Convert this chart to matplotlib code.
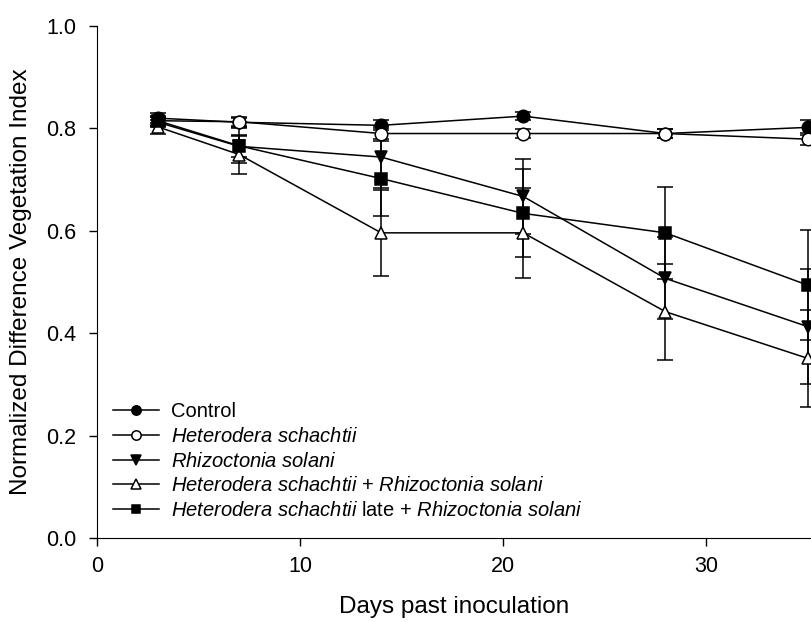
import numpy as np
import matplotlib
matplotlib.use('Agg')
import matplotlib.pyplot as plt

plt.rcParams['font.family'] = ['Liberation Sans', 'DejaVu Sans']
plt.rcParams['mathtext.fontset'] = 'custom'
plt.rcParams['mathtext.rm'] = 'Liberation Sans'
plt.rcParams['mathtext.it'] = 'Liberation Sans:italic'

##########################################################
# Data
days = [3, 7, 14, 21, 28, 35]

control = [0.820, 0.812, 0.806, 0.824, 0.790, 0.802]
control_err = [0.010, 0.010, 0.010, 0.008, 0.008, 0.015]

hs = [0.815, 0.813, 0.790, 0.790, 0.790, 0.779]
hs_err = [0.008, 0.008, 0.010, 0.008, 0.008, 0.012]

rs = [0.812, 0.765, 0.744, 0.667, 0.507, 0.413]
rs_err = [0.010, 0.020, 0.060, 0.074, 0.080, 0.112]

hs_rs = [0.803, 0.749, 0.596, 0.596, 0.442, 0.351]
hs_rs_err = [0.013, 0.039, 0.084, 0.088, 0.094, 0.095]

late = [0.815, 0.766, 0.702, 0.634, 0.596, 0.494]
late_err = [0.010, 0.034, 0.073, 0.086, 0.090, 0.107]

labels = ['Control',
          r'$\it{Heterodera\ schachtii}$',
          r'$\it{Rhizoctonia\ solani}$',
          r'$\it{Heterodera\ schachtii}$ + $\it{Rhizoctonia\ solani}$',
          r'$\it{Heterodera\ schachtii}$ late + $\it{Rhizoctonia\ solani}$']

##########################################################
W, H = 811, 622
px_day = 20.3
fig = plt.figure(figsize=(W / 100, H / 100), dpi=100)
# axes runs to the right edge of the picture (last points get cut in half)
x0, x1 = 97, W
y0, y1 = 538, 26
ax = fig.add_axes([x0 / W, 1 - y0 / H, (x1 - x0) / W, (y0 - y1) / H])

series = [(control, control_err, 'o', 'black'),
          (hs, hs_err, 'o', 'white'),
          (rs, rs_err, 'v', 'black'),
          (hs_rs, hs_rs_err, '^', 'white'),
          (late, late_err, 's', 'black')]

handles = []
for vals, err, m, fc in series:
    c = ax.errorbar(days, vals, yerr=err, color='black', lw=1.1, marker=m,
                    mfc=fc, mec='black', mew=1.1, ms=9 if m != 's' else 8.5,
                    capsize=6, capthick=1.1, elinewidth=1.1)
    handles.append(c[0])

ax.set_xlim(0, (x1 - x0) / px_day)
ax.set_ylim(0, 1.0)
ax.set_xticks([0, 10, 20, 30])
ax.set_yticks([0.0, 0.2, 0.4, 0.6, 0.8, 1.0])
ax.set_yticklabels(['0.0', '0.2', '0.4', '0.6', '0.8', '1.0'])
ax.spines['top'].set_visible(False)
ax.spines['right'].set_visible(False)
ax.tick_params(direction='out', length=6, width=1, labelsize=15.5)
ax.tick_params(axis='x', pad=7)
ax.tick_params(axis='y', pad=9)
ax.set_xlabel('Days past inoculation', fontsize=17.5, labelpad=14)
ax.set_ylabel('Normalized Difference Vegetation Index', fontsize=17.5, labelpad=10)

ax.legend(handles, labels, loc='lower left',
          bbox_to_anchor=(16 / (x1 - x0), 18 / (y0 - y1)), frameon=False,
          fontsize=14.5, markerscale=0.75, handlelength=2.3, handletextpad=0.6,
          labelspacing=0.28, borderpad=0, borderaxespad=0)

plt.savefig('out.png', dpi=100)
